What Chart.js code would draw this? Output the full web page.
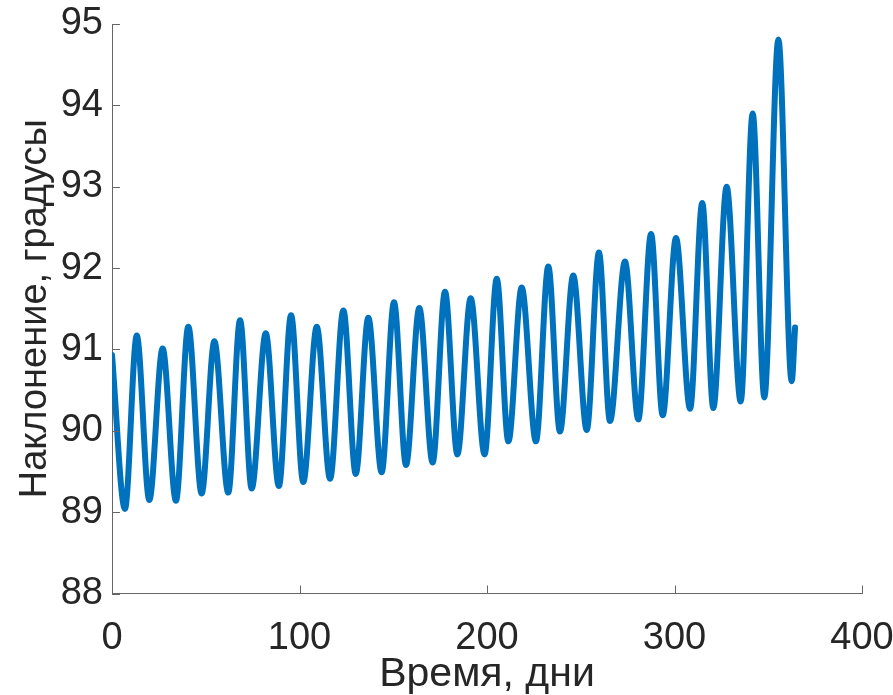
<!DOCTYPE html>
<html>
<head>
<meta charset="utf-8">
<script src="https://cdn.jsdelivr.net/npm/chart.js@4.4.1/dist/chart.umd.min.js"></script>
<style>
  html, body { margin: 0; padding: 0; background: #ffffff; }
  canvas { display: block; }
</style>
</head>
<body>
<canvas id="c" width="893" height="695"></canvas>
<script>
// Time of each turning point of the curve (days)
const days = [0, 6.9, 13.2, 19.9, 27.0, 34.1, 40.7, 47.8, 54.6, 62.0,
  68.3, 74.5, 82.0, 89.0, 95.5, 102.0, 109.2, 116.3, 123.4, 130.0,
  136.7, 143.8, 150.4, 156.8, 163.9, 171.0, 177.6, 184.2, 191.3, 198.7,
  205.2, 211.4, 218.5, 226.1, 232.7, 238.9, 246.0, 253.2, 259.7, 265.6,
  273.6, 280.7, 287.5, 293.7, 300.8, 308.3, 314.8, 320.7, 327.8, 335.3,
  341.7, 347.9, 355.4, 362.5, 364.3];
// Inclination at those points (degrees)
const inclination = [90.93, 89.04, 91.17, 89.15, 91.01, 89.14, 91.28, 89.23, 91.10, 89.24,
  91.36, 89.29, 91.20, 89.32, 91.42, 89.37, 91.28, 89.41, 91.48, 89.47,
  91.39, 89.49, 91.58, 89.58, 91.51, 89.61, 91.71, 89.71, 91.63, 89.71,
  91.87, 89.87, 91.76, 89.87, 92.02, 89.99, 91.91, 90.01, 92.19, 90.12,
  92.08, 90.14, 92.42, 90.19, 92.37, 90.27, 92.80, 90.28, 93.00, 90.36,
  93.90, 90.41, 94.81, 90.61, 91.27];
const xTicks = [0, 100, 200, 300, 400];
const yTicks = [88, 89, 90, 91, 92, 93, 94, 95];
const xTitle = 'Время, дни';
const yTitle = 'Наклонение, градусы';

const points = days.map((d, i) => ({ x: d, y: inclination[i] }));

const FONT = "'Liberation Sans', Arial, Helvetica, sans-serif";
const TEXT = '#262626';
const AXIS = '#666666';

const innerTicks = {
  id: 'innerTicks',
  afterDraw(chart) {
    const ctx = chart.ctx;
    const xs = chart.scales.x, ys = chart.scales.y;
    const a = chart.chartArea;
    ctx.save();
    ctx.strokeStyle = AXIS;
    ctx.lineWidth = 1;
    ctx.beginPath();
    xTicks.forEach(v => {
      const px = Math.round(xs.getPixelForValue(v)) + 0.5;
      ctx.moveTo(px, a.bottom);
      ctx.lineTo(px, a.bottom - 8);
    });
    yTicks.forEach(v => {
      const py = Math.round(ys.getPixelForValue(v)) + 0.5;
      ctx.moveTo(a.left, py);
      ctx.lineTo(a.left + 8, py);
    });
    ctx.stroke();
    ctx.restore();
  }
};

new Chart(document.getElementById('c'), {
  type: 'line',
  data: {
    datasets: [{
      data: points,
      borderColor: '#0072BD',
      borderWidth: 6,
      pointRadius: 0,
      cubicInterpolationMode: 'monotone',
      borderCapStyle: 'round',
      borderJoinStyle: 'round',
      fill: false
    }]
  },
  options: {
    responsive: false,
    animation: false,
    devicePixelRatio: 1,
    layout: { padding: { top: 24, right: 31, left: 0, bottom: 0 } },
    plugins: { legend: { display: false }, tooltip: { enabled: false } },
    scales: {
      x: {
        type: 'linear',
        min: 0, max: 400,
        afterBuildTicks: s => { s.ticks = xTicks.map(v => ({ value: v })); },
        afterFit: s => { s.height = 101.5; s.paddingLeft = 0; s.paddingRight = 0; },
        grid: { display: false, drawTicks: false },
        border: { display: true, color: AXIS, width: 1 },
        ticks: { color: TEXT, padding: 26, maxRotation: 0, autoSkip: false,
                 font: { family: FONT, size: 38, lineHeight: 1 } },
        title: { display: true, text: xTitle, color: TEXT, padding: { top: 0, bottom: 0 },
                 font: { family: FONT, size: 41, lineHeight: 1 } }
      },
      y: {
        type: 'linear',
        min: 88, max: 95,
        afterBuildTicks: s => { s.ticks = yTicks.map(v => ({ value: v })); },
        afterFit: s => { s.width = 112; s.paddingTop = 0; s.paddingBottom = 0; },
        grid: { display: false, drawTicks: false },
        border: { display: true, color: AXIS, width: 1 },
        ticks: { color: TEXT, padding: 9, autoSkip: false,
                 font: { family: FONT, size: 38, lineHeight: 1 } },
        title: { display: true, text: yTitle, color: TEXT, padding: { top: 17, bottom: 0 },
                 font: { family: FONT, size: 38, lineHeight: 1 } }
      }
    }
  },
  plugins: [innerTicks]
});
</script>
</body>
</html>
